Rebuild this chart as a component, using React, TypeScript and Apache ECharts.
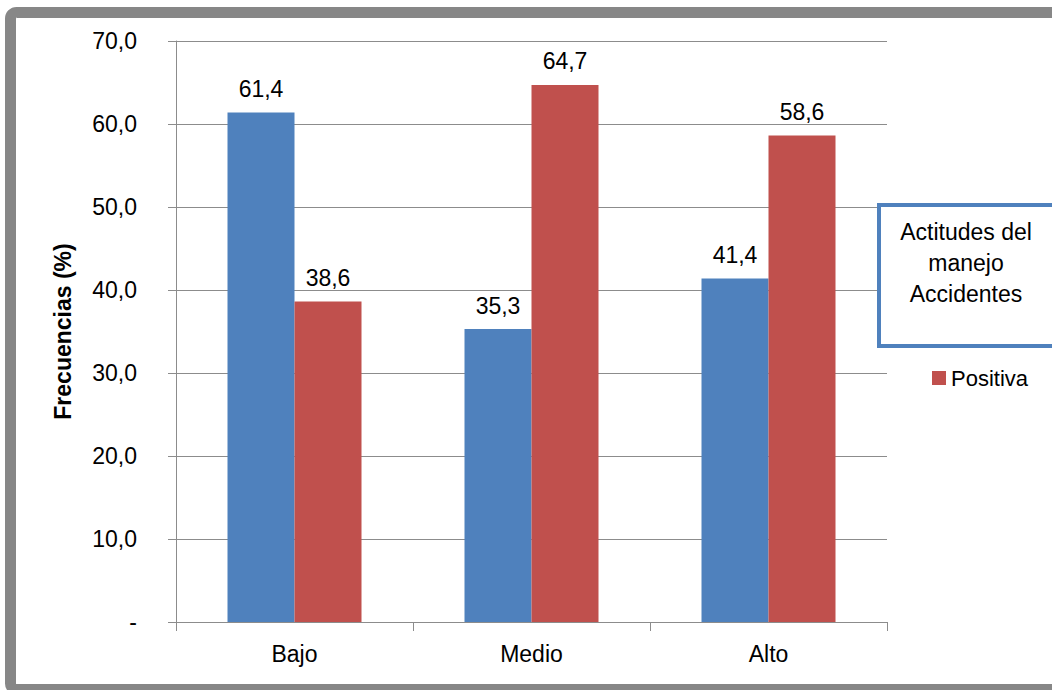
import React, { useEffect, useRef } from "react";
import * as echarts from "echarts";

// Attitude levels on the x axis
const categories = ["Bajo", "Medio", "Alto"];
// Percentages per attitude group
const negativaValues = [61.4, 35.3, 41.4];
const positivaValues = [38.6, 64.7, 58.6];
// Value axis ticks
const yMin = 0;
const yMax = 70;
const yStep = 10;

const FONT = "'Liberation Sans', Arial, sans-serif";
const BLUE = "#4f81bd";
const RED = "#c0504d";
const GRID_GRAY = "#8c8c8c";

const fmt = (v: number) => v.toFixed(1).replace(".", ",");

export default function App() {
  const ref = useRef<HTMLDivElement>(null);

  useEffect(() => {
    if (!ref.current) return;
    const chart = echarts.init(ref.current, undefined, { renderer: "svg" });
    chart.setOption({
      animation: false,
      backgroundColor: "#ffffff",
      grid: { left: 176, right: 165, top: 41, bottom: 68 },
      legend: {
        data: ["Positiva"],
        left: 927,
        top: 362,
        icon: "rect",
        itemWidth: 14,
        itemHeight: 14,
        itemGap: 4,
        textStyle: { fontFamily: FONT, fontSize: 22, color: "#000" },
      },
      xAxis: {
        type: "category",
        data: categories,
        axisLine: { show: true, lineStyle: { color: GRID_GRAY, width: 1 } },
        axisTick: { show: true, length: 9, lineStyle: { color: GRID_GRAY } },
        axisLabel: { fontFamily: FONT, fontSize: 23, color: "#000", margin: 20 },
      },
      yAxis: {
        type: "value",
        min: yMin,
        max: yMax,
        interval: yStep,
        name: "Frecuencias (%)",
        nameLocation: "middle",
        nameRotate: 90,
        nameGap: 102,
        nameTextStyle: { fontFamily: FONT, fontSize: 23, fontWeight: "bold", color: "#000" },
        axisLine: { show: true, lineStyle: { color: GRID_GRAY, width: 1 } },
        axisTick: { show: true, length: 8, lineStyle: { color: GRID_GRAY } },
        splitLine: { show: true, lineStyle: { color: GRID_GRAY, width: 1 } },
        axisLabel: {
          fontFamily: FONT,
          fontSize: 23,
          color: "#000",
          margin: 39,
          formatter: (v: number) => (v === 0 ? "-" : fmt(v)),
        },
      },
      series: [
        {
          name: "Negativa",
          type: "bar",
          data: negativaValues,
          barWidth: 67,
          barGap: "0%",
          itemStyle: { color: BLUE },
          label: {
            show: true,
            position: "top",
            distance: 12,
            fontFamily: FONT,
            fontSize: 23,
            color: "#000",
            formatter: (p: any) => fmt(p.value),
          },
        },
        {
          name: "Positiva",
          type: "bar",
          data: positivaValues,
          barWidth: 67,
          barGap: "0%",
          itemStyle: { color: RED },
          label: {
            show: true,
            position: "top",
            distance: 12,
            fontFamily: FONT,
            fontSize: 23,
            color: "#000",
            formatter: (p: any) => fmt(p.value),
          },
        },
      ],
      graphic: [
        // outer frame
        {
          type: "rect",
          z: 100,
          shape: { x: 10.5, y: 12.5, width: 1100, height: 677, r: 6 },
          style: { fill: "none", stroke: "#878787", lineWidth: 11 },
        },
        // legend title box
        {
          type: "rect",
          z: 90,
          shape: { x: 879, y: 205, width: 200, height: 141 },
          style: { fill: "#ffffff", stroke: BLUE, lineWidth: 4 },
        },
        {
          type: "text",
          z: 91,
          x: 966,
          y: 263,
          style: {
            text: "Actitudes del\nmanejo\nAccidentes",
            fontFamily: FONT,
            fontSize: 23,
            lineHeight: 31,
            fill: "#000",
            align: "center",
            verticalAlign: "middle",
          },
        },
      ],
    });
    return () => chart.dispose();
  }, []);

  return (
    <div
      ref={ref}
      style={{ position: "fixed", left: 0, top: 0, width: 1052, height: 690 }}
    />
  );
}
